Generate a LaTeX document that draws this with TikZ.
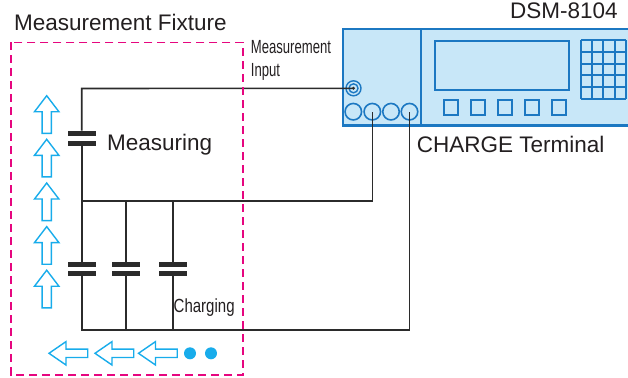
\documentclass[tikz,border=0pt]{standalone}
\usepackage{fontspec}
\setmainfont{Liberation Sans}
\definecolor{wirec}{HTML}{2B2B2B}
\definecolor{devfill}{HTML}{C8E7F8}
\definecolor{devline}{HTML}{1C78C2}
\definecolor{arrowc}{HTML}{18ACEB}
\definecolor{fixc}{HTML}{E6067F}
\definecolor{txt}{HTML}{231F20}
\tikzset{
  wire/.style={draw=wirec, line width=1.6},
  plate/.style={rectangle, fill=wirec, minimum width=28pt, minimum height=5pt, inner sep=0pt},
  term/.style={circle, draw=devline, line width=1.6, minimum size=16.5pt, inner sep=0pt},
  lbl/.style={inner sep=0pt, text=txt, font=\fontsize{22.5}{27}\selectfont},
  smalllbl/.style={inner sep=0pt, text=txt, font=\fontsize{19}{23}\selectfont},
  devpart/.style={draw=devline, line width=2},
  uparr/.pic={\draw[arrowc, line width=1.4, fill=white, line join=miter] (0,0) -- (12.2,16) -- (4.6,16) -- (4.6,37.6) -- (-4.6,37.6) -- (-4.6,16) -- (-12.2,16) -- cycle;},
  leftarr/.pic={\draw[arrowc, line width=1.4, fill=white, line join=miter] (0,0) -- (17,-11.7) -- (17,-4.2) -- (38.7,-4.2) -- (38.7,4.2) -- (17,4.2) -- (17,11.7) -- cycle;}
}
\begin{document}
\begin{tikzpicture}[x=1pt,y=-1pt]
\useasboundingbox (0,0) rectangle (628,377);
\begin{scope}
\clip (0,0) rectangle (628,377);
% instrument
\fill[devfill] (342.7,28.8) rectangle (640,125.5);
\draw[devline, line width=2.4] (640,28.8) -- (342.7,28.8) -- (342.7,125.5) -- (640,125.5);
\draw[devline, line width=2] (421,28.8) -- (421,125.5);
\draw[devpart] (435,40.7) rectangle (568.5,90);
\foreach \i in {0,...,4} \draw[devpart] (444.3+27*\i,100.5) rectangle ++(13.3,14.5);
\foreach \x in {581,592.2,603.4,614.6,625.8} \draw[devpart] (\x,40) -- (\x,99);
\foreach \y in {40,51.8,63.6,75.4,87.2,99} \draw[devpart] (581,\y) -- (625.8,\y);
\end{scope}

% terminals
\node[term] (t1) at (353.3,111.7) {};
\node[term] (t2) at (372.3,111.7) {};
\node[term] (t3) at (391,111.7) {};
\node[term] (t4) at (409.5,111.7) {};
\node[circle, draw=devline, line width=1.4, minimum size=15pt, inner sep=0pt] (coax) at (353.5,88.3) {};
\node[circle, draw=devline, line width=1.4, minimum size=9pt, inner sep=0pt] (coaxin) at (353.5,88.3) {};

% capacitors
\node[plate] (cm1) at (82,133.3) {};
\node[plate] (cm2) at (82,143.2) {};
\node[plate] (c1a) at (81.7,264.7) {};
\node[plate] (c1b) at (81.7,273.5) {};
\node[plate] (c2a) at (125.7,264.7) {};
\node[plate] (c2b) at (125.7,273.5) {};
\node[plate] (c3a) at (173,264.7) {};
\node[plate] (c3b) at (173,273.5) {};

\coordinate (TL) at (81.7,88.5);
\coordinate (ML) at (81.7,201.2);
\coordinate (BL) at (81.7,330);
\coordinate (M2) at (125.7,201.2);
\coordinate (B2) at (125.7,330);
\coordinate (M3) at (173,201.2);
\coordinate (B3) at (173,330);
\coordinate (MR) at (372.3,201.2);
\coordinate (BR) at (409.5,330);

% wires
\draw[wire] (coax.center) -- (TL) -- (TL |- cm1.north);
\draw[wire] (cm2.south -| TL) -- (c1a.north);
\draw[wire] (c1b.south) -- (BL) -- (BR) -- (t4.center);
\draw[wire] (ML) -- (MR) -- (t2.center);
\draw[wire] (M2) -- (c2a.north);
\draw[wire] (c2b.south) -- (B2);
\draw[wire] (M3) -- (c3a.north);
\draw[wire] (c3b.south) -- (B3);
\fill[wirec] (coax.center) circle (1.6);

% fixture boundary
\draw[fixc, line width=1.5, dash pattern=on 8pt off 5pt] (11,42.3) rectangle (243,375);

% arrows
\foreach \t in {95.7,139.3,183,226.6,270.2} \pic at (46.7,\t) {uparr};
\foreach \x in {49,95,138.5} \pic at (\x,353.3) {leftarr};
\fill[arrowc] (190,353.3) circle (6);
\fill[arrowc] (211,353.3) circle (6);

% labels
\node[lbl, anchor=base west] (fixt) at (14,30.7) {Measurement Fixture};
\node[lbl, anchor=base west] (dsm) at (510,19) {DSM-8104};
\node[lbl, anchor=base west] (chg) at (416.7,152.5) {CHARGE Terminal};
\node[lbl, anchor=base west] (meas) at (107,150.5) {Measuring};
\node[smalllbl, anchor=base west] (mi1) at (250.7,54) {\scalebox{0.69}[1]{Measurement}};
\node[smalllbl, anchor=base west] (mi2) at (250.7,77) {\scalebox{0.69}[1]{Input}};
\node[smalllbl, anchor=base west] (charging) at (173.5,312.5) {\scalebox{0.79}[1]{Charging}};
\end{tikzpicture}
\end{document}
